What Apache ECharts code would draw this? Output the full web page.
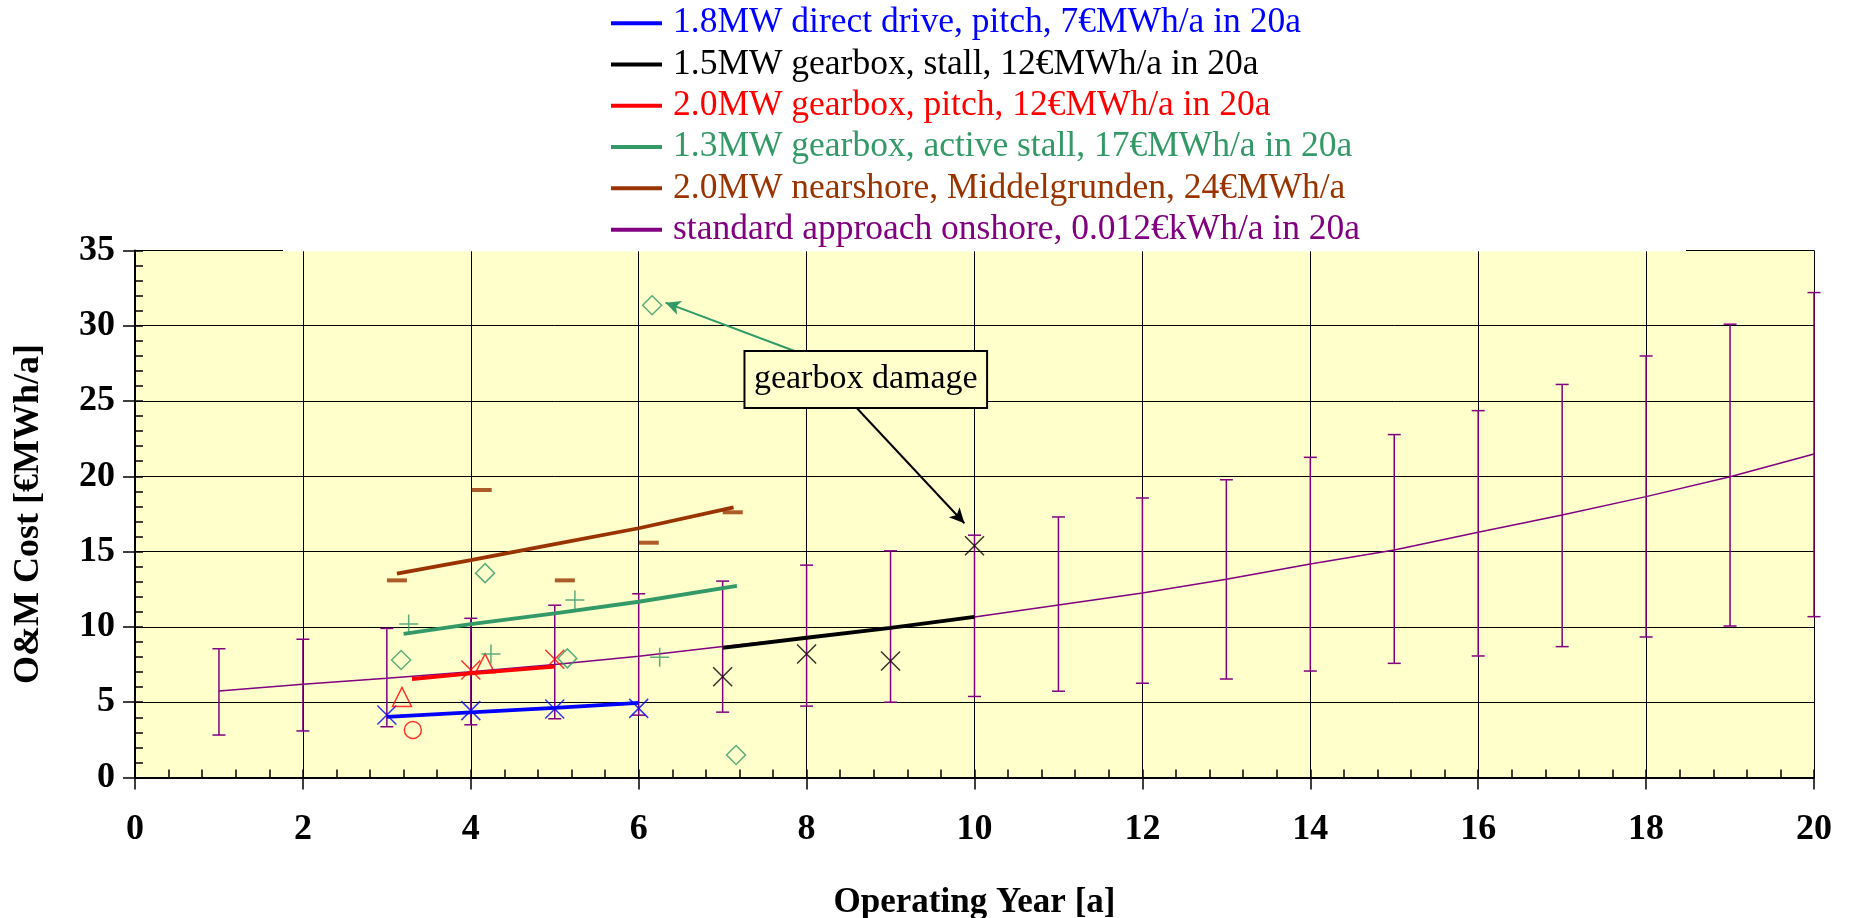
<!DOCTYPE html>
<html>
<head>
<meta charset="utf-8">
<script src="https://cdn.jsdelivr.net/npm/echarts@6.0.0/dist/echarts.min.js"></script>
<style>
html,body{margin:0;padding:0;background:#ffffff;}
#chart{width:1851px;height:918px;}
</style>
</head>
<body>
<div id="chart"></div>
<script>
// ---------------- DATA ----------------
const legendNames = [
  '1.8MW direct drive, pitch, 7€MWh/a in 20a',
  '1.5MW gearbox, stall, 12€MWh/a in 20a',
  '2.0MW gearbox, pitch, 12€MWh/a in 20a',
  '1.3MW gearbox, active stall, 17€MWh/a in 20a',
  '2.0MW nearshore, Middelgrunden, 24€MWh/a',
  'standard approach onshore, 0.012€kWh/a in 20a'
];
const xTitle = 'Operating Year [a]';
const yTitle = 'O&M Cost [€MWh/a]';
const annotationText = 'gearbox damage';

// standard approach onshore (year, mean, low, high)
const years         = [1, 2, 3, 4, 5, 6, 7, 8, 9, 10, 11, 12, 13, 14, 15, 16, 17, 18, 19, 20];
const standardCurve = [5.75, 6.19, 6.59, 7.03, 7.5, 8.05, 8.7, 9.3, 9.95, 10.65, 11.45, 12.25, 13.16, 14.18, 15.1, 16.28, 17.43, 18.65, 19.97, 21.48];
const standardLow   = [2.82, 3.09, 3.37, 3.5, 3.9, 4.14, 4.34, 4.74, 5.0, 5.38, 5.73, 6.26, 6.54, 7.07, 7.58, 8.07, 8.69, 9.33, 10.06, 10.68];
const standardHigh  = [8.55, 9.18, 9.9, 10.57, 11.44, 12.2, 13.04, 14.1, 15.05, 16.09, 17.3, 18.56, 19.77, 21.26, 22.77, 24.36, 26.1, 27.99, 30.1, 32.2];

// 1.8MW direct drive (blue)
const blueTrend  = [[3, 4.03], [4, 4.33], [5, 4.62], [6, 4.96]];
const bluePoints = [[3, 4.15], [4, 4.44], [5, 4.55], [6, 4.59]];

// 1.5MW gearbox stall (black)
const blackTrend  = [[7, 8.6], [8, 9.28], [9, 9.94], [10, 10.67]];
const blackPoints = [[7, 6.69], [8, 8.2], [9, 7.74], [10, 15.39]];

// 2.0MW gearbox pitch (red)
const redTrend     = [[3.3, 6.54], [4, 6.92], [5, 7.36]];
const redCross     = [[4, 7.14], [5, 7.85]];
const redTriangles = [[3.18, 5.35], [4.17, 7.58]];
const redCircles   = [[3.31, 3.15]];

// 1.3MW gearbox active stall (green)
const greenTrend    = [[3.2, 9.53], [4, 10.19], [5, 10.9], [6, 11.67], [7.17, 12.72]];
const greenDiamonds = [[3.17, 7.8], [4.17, 13.57], [5.15, 7.91], [6.16, 31.36], [7.16, 1.49]];
const greenPlus     = [[3.26, 10.2], [4.24, 8.2], [5.24, 11.79], [6.25, 7.98]];

// 2.0MW nearshore Middelgrunden (brown)
const brownTrend  = [[3.12, 13.53], [4, 14.44], [5, 15.5], [6, 16.55], [7.13, 17.94]];
const brownPoints = [[3.12, 13.09], [4.13, 19.09], [5.12, 13.09], [6.12, 15.59], [7.12, 17.61]];

// annotation anchors (data coordinates)
const greenArrow = [[7.88, 28.27], [6.32, 31.53]];
const blackArrow = [[8.6, 24.52], [9.88, 16.88]];
const annotationBox = [[7.26, 28.32], [10.15, 24.54]];

// ---------------- STYLE ----------------
const C = {
  blue: '#0000FF', black: '#000000', red: '#FF0000',
  green: '#339966', brown: '#993300', purple: '#800080'
};
const legendColors = [C.blue, C.black, C.red, C.green, C.brown, C.purple];
const FONT = 'Liberation Serif, Times New Roman, serif';
const X_SYM = 'path://M0,0L10,10M10,0L0,10';
const PLUS_SYM = 'path://M5,0L5,10M0,5L10,5';

const chart = echarts.init(document.getElementById('chart'), null, {renderer: 'canvas'});

function trend(name, data, color, width) {
  return {
    name: name, type: 'line', data: data, symbol: 'none', z: 4,
    lineStyle: {color: color, width: width}, itemStyle: {color: color},
    animation: false, silent: true
  };
}
function scatter(name, data, symbol, size, color, filled) {
  return {
    name: name, type: 'scatter', data: data, symbol: symbol, symbolSize: size, z: 5,
    itemStyle: filled ? {color: color} : {color: 'rgba(0,0,0,0)', borderColor: color, borderWidth: 1.5},
    animation: false, silent: true
  };
}

const option = {
  backgroundColor: '#ffffff',
  animation: false,
  grid: {
    left: 135, right: 37, top: 250.4, bottom: 140.5,
    outerBoundsMode: 'none', containLabel: false,
    show: true, backgroundColor: '#FFFFCC', borderWidth: 0
  },
  legend: {
    orient: 'vertical', left: 611, top: 5, padding: 0,
    itemWidth: 51, itemHeight: 4, itemGap: 5, icon: 'rect',
    selectedMode: false,
    textStyle: {fontFamily: FONT, fontSize: 35.5, lineHeight: 36.3, padding: [0, 0, 0, 6]},
    data: legendNames.map((n, i) => ({name: n, textStyle: {color: legendColors[i]}}))
  },
  xAxis: [
    {
      type: 'value', min: 0, max: 20, interval: 2,
      axisLine: {lineStyle: {color: '#000', width: 2}},
      axisTick: {show: true, inside: false, length: 12, lineStyle: {color: '#000', width: 1.5}},
      axisLabel: {fontFamily: FONT, fontWeight: 'bold', fontSize: 36, color: '#000', margin: 34},
      splitLine: {show: true, lineStyle: {color: '#000', width: 1}},
      name: xTitle, nameLocation: 'middle', nameGap: 108,
      nameTextStyle: {fontFamily: FONT, fontWeight: 'bold', fontSize: 35, color: '#000'}
    },
    {
      type: 'value', min: 0, max: 20, interval: 0.4, position: 'bottom',
      axisLine: {show: false},
      axisTick: {show: true, inside: true, length: 8, lineStyle: {color: '#000', width: 1.5}},
      axisLabel: {show: false}, splitLine: {show: false}
    }
  ],
  yAxis: [
    {
      type: 'value', min: 0, max: 35, interval: 5,
      axisLine: {show: true, lineStyle: {color: '#000', width: 2}},
      axisTick: {show: true, inside: false, length: 12, lineStyle: {color: '#000', width: 1.5}},
      axisLabel: {fontFamily: FONT, fontWeight: 'bold', fontSize: 36, color: '#000', margin: 20},
      splitLine: {show: true, lineStyle: {color: '#000', width: 1}},
      name: yTitle, nameLocation: 'middle', nameGap: 88,
      nameTextStyle: {fontFamily: FONT, fontWeight: 'bold', fontSize: 36, color: '#000'}
    },
    {
      type: 'value', min: 0, max: 35, interval: 1, position: 'left',
      axisLine: {show: false},
      axisTick: {show: true, inside: true, length: 8, lineStyle: {color: '#000', width: 1.5}},
      axisLabel: {show: false}, splitLine: {show: false}
    }
  ],
  series: [
    // standard approach error bars
    {
      name: 'standard error', type: 'custom', z: 2, silent: true, animation: false,
      data: years.map((y, i) => [y, standardLow[i], standardHigh[i]]),
      encode: {x: 0, y: [1, 2]},
      renderItem: function (params, api) {
        const x = api.value(0);
        const lo = api.coord([x, api.value(1)]);
        const hi = api.coord([x, api.value(2)]);
        const w = 6.5;
        const st = {stroke: C.purple, lineWidth: 1.5, fill: null};
        return {
          type: 'group',
          children: [
            {type: 'line', shape: {x1: lo[0], y1: lo[1], x2: hi[0], y2: hi[1]}, style: st},
            {type: 'line', shape: {x1: lo[0] - w, y1: lo[1], x2: lo[0] + w, y2: lo[1]}, style: st},
            {type: 'line', shape: {x1: hi[0] - w, y1: hi[1], x2: hi[0] + w, y2: hi[1]}, style: st}
          ]
        };
      }
    },
    Object.assign(trend(legendNames[5], years.map((y, i) => [y, standardCurve[i]]), C.purple, 1.5), {z: 3}),
    trend(legendNames[0], blueTrend, C.blue, 3.8),
    trend(legendNames[1], blackTrend, C.black, 3.8),
    trend(legendNames[2], redTrend, C.red, 3.8),
    trend(legendNames[3], greenTrend, C.green, 3.8),
    trend(legendNames[4], brownTrend, C.brown, 3.8),
    scatter('blue pts', bluePoints, X_SYM, 19, C.blue, false),
    Object.assign(scatter('black pts', blackPoints, X_SYM, 19, C.black, false), {
      markLine: {
        silent: true, animation: false, symbol: ['none', 'arrow'], symbolSize: [11, 15],
        label: {show: false},
        lineStyle: {color: C.black, width: 2, type: 'solid'},
        data: [[{coord: blackArrow[0]}, {coord: blackArrow[1]}]]
      }
    }),
    scatter('red x', redCross, X_SYM, 19, C.red, false),
    scatter('red tri', redTriangles, 'triangle', 19, C.red, false),
    scatter('red circ', redCircles, 'circle', 17, C.red, false),
    Object.assign(scatter('green dia', greenDiamonds, 'diamond', 19, C.green, false), {
      markLine: {
        silent: true, animation: false, symbol: ['none', 'arrow'], symbolSize: [11, 15],
        label: {show: false},
        lineStyle: {color: C.green, width: 2, type: 'solid'},
        data: [[{coord: greenArrow[0]}, {coord: greenArrow[1]}]]
      }
    }),
    scatter('green plus', greenPlus, PLUS_SYM, 19, C.green, false),
    scatter('brown pts', brownPoints, 'rect', [20, 4], C.brown, true)
  ]
};
chart.setOption(option);

// annotation box and legend backdrop
const pA = chart.convertToPixel({gridIndex: 0}, annotationBox[0]);
const pB = chart.convertToPixel({gridIndex: 0}, annotationBox[1]);
chart.setOption({
  graphic: [
    {type: 'rect', z: 3, silent: true, shape: {x: 283, y: 0, width: 1403, height: 251.2}, style: {fill: '#ffffff'}},
    {
      type: 'rect', z: 6, silent: true,
      shape: {x: pA[0], y: pA[1], width: pB[0] - pA[0], height: pB[1] - pA[1]},
      style: {fill: '#FFFFCC', stroke: '#000', lineWidth: 2}
    },
    {
      type: 'text', z: 7, silent: true,
      x: (pA[0] + pB[0]) / 2, y: (pA[1] + pB[1]) / 2,
      style: {text: annotationText, fontFamily: FONT, fontSize: 34, fill: '#000', align: 'center', verticalAlign: 'middle'}
    }
  ]
});
</script>
</body>
</html>
